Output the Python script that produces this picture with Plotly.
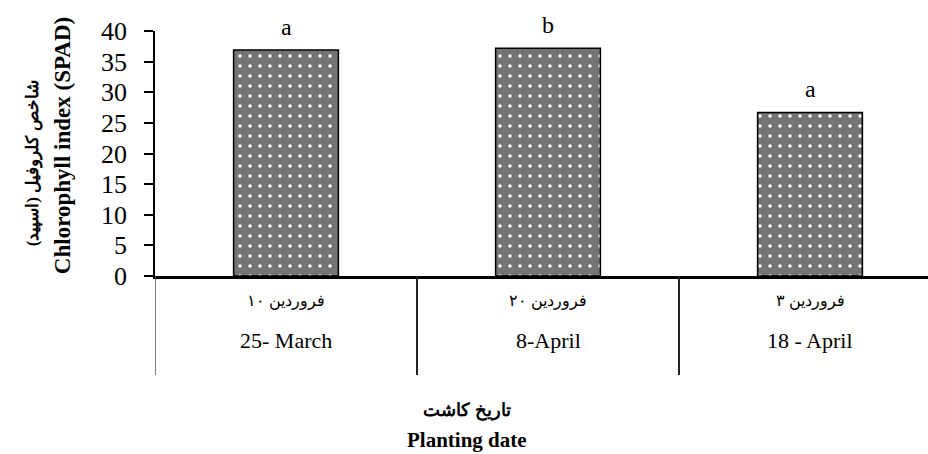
import plotly.graph_objects as go

# Chlorophyll index (SPAD) by planting date
persian_dates = ["۱۰ فروردین", "۲۰ فروردین", "۳ فروردین"]
english_dates = ["25- March", "8-April", "18 - April"]
spad_values = [36.9, 37.2, 26.7]
group_letters = ["a", "b", "a"]
y_ticks = [0, 5, 10, 15, 20, 25, 30, 35, 40]

positions = list(range(len(spad_values)))
SERIF = "Liberation Serif, Times New Roman, DejaVu Serif, serif"

fig = go.Figure()
fig.add_trace(go.Bar(
    x=positions,
    y=spad_values,
    width=0.4,
    marker=dict(
        color="#767676",
        line=dict(color="black", width=1.5),
        pattern=dict(shape=".", bgcolor="#747474", fgcolor="white",
                     size=10, solidity=0.09, fillmode="replace"),
    ),
    hoverinfo="skip",
))

annotations = []
# mean-separation letters above each bar
for xp, v, lt in zip(positions, spad_values, group_letters):
    annotations.append(dict(x=xp, y=v, xref="x", yref="y", text=lt,
                            showarrow=False, yanchor="bottom", yshift=8,
                            font=dict(family=SERIF, size=24, color="black")))

# two-level category labels
for xp, p, e in zip(positions, persian_dates, english_dates):
    annotations.append(dict(x=xp, y=-0.1, xref="x", yref="paper", text=p,
                            showarrow=False, yanchor="middle",
                            font=dict(family=SERIF, size=16, color="black")))
    annotations.append(dict(x=xp, y=-0.262, xref="x", yref="paper", text=e,
                            showarrow=False, yanchor="middle",
                            font=dict(family=SERIF, size=22, color="black")))

# x-axis title
annotations.append(dict(x=0.5, xref="paper", xanchor="center", y=-0.548, yref="paper",
                        text="<b>تاریخ کاشت</b>", showarrow=False, yanchor="middle",
                        font=dict(family=SERIF, size=18, color="black"), xshift=-75))
annotations.append(dict(x=0.5, xref="paper", xanchor="center", y=-0.67, yref="paper",
                        text="<b>Planting date</b>", showarrow=False, yanchor="middle",
                        font=dict(family=SERIF, size=21, color="black"), xshift=-75))

# y-axis title (two lines), placed in pixels left of the plot area
annotations.append(dict(x=0, xref="paper", xshift=-122, y=0.46, yref="paper",
                        text="<b>شاخص کلروفیل (اسپید)</b>",
                        showarrow=False, textangle=-90, xanchor="center", yanchor="middle",
                        font=dict(family=SERIF, size=17, color="black")))
annotations.append(dict(x=0, xref="paper", xshift=-93, y=0.53, yref="paper",
                        text="<b>Chlorophyll index (SPAD)</b>",
                        showarrow=False, textangle=-90, xanchor="center", yanchor="middle",
                        font=dict(family=SERIF, size=23, color="black")))

# category separator lines below the axis
shapes = []
for b in [-0.5, 0.5, 1.5]:
    shapes.append(dict(type="line", xref="x", yref="paper", x0=b, x1=b, y0=0, y1=-0.404,
                       line=dict(color="#222222" if b > -0.5 else "#555555",
                                 width=2 if b > -0.5 else 1.5)))

fig.update_layout(
    width=928, height=454,
    margin=dict(l=155, r=0, t=31, b=178),
    paper_bgcolor="white", plot_bgcolor="white",
    showlegend=False,
    xaxis=dict(range=[-0.5, -0.5 + 773 / 262], showticklabels=False, showgrid=False,
               zeroline=False, showline=True, linecolor="black", linewidth=2.5,
               ticks="", fixedrange=True),
    yaxis=dict(range=[0, 40], tickvals=y_ticks, ticks="outside", ticklen=9,
               tickcolor="black", tickwidth=1.5, showline=True, linecolor="black",
               linewidth=1.5, showgrid=False, zeroline=False,
               tickfont=dict(family=SERIF, size=26, color="black"), ticklabelstandoff=12),
    annotations=annotations,
    shapes=shapes,
)

fig.write_html("out.html")
